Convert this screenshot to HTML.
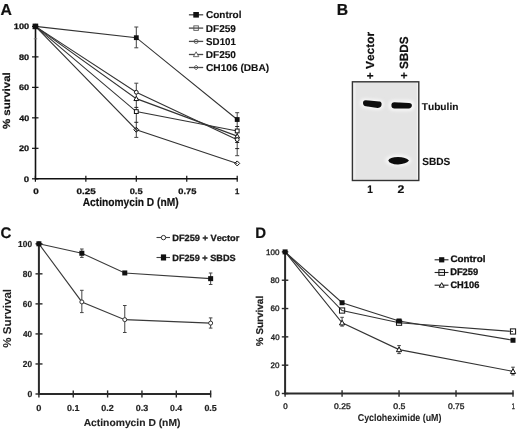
<!DOCTYPE html>
<html><head><meta charset="utf-8"><style>
html,body{margin:0;padding:0;background:#fff;}
svg{display:block;filter:blur(0.3px);}
text{font-family:"Liberation Sans",sans-serif;font-kerning:none;text-rendering:geometricPrecision;}
</style></head><body>
<svg width="520" height="431" viewBox="0 0 520 431">
<rect width="520" height="431" fill="#fff"/>
<text transform="matrix(0.9882,0,0,1,0.61,14.50)" font-size="15.99" font-weight="bold" fill="#111" stroke="#111" stroke-width="0.2" >A</text>
<line x1="35.5" y1="25.9" x2="35.5" y2="179.55" stroke="#111" stroke-width="1.6"/>
<line x1="35.5" y1="178.8" x2="237.7" y2="178.8" stroke="#111" stroke-width="1.6"/>
<line x1="32" y1="178.8" x2="38.5" y2="178.8" stroke="#111" stroke-width="1.2"/>
<line x1="32" y1="148.32" x2="38.5" y2="148.32" stroke="#111" stroke-width="1.2"/>
<line x1="32" y1="117.84" x2="38.5" y2="117.84" stroke="#111" stroke-width="1.2"/>
<line x1="32" y1="87.36" x2="38.5" y2="87.36" stroke="#111" stroke-width="1.2"/>
<line x1="32" y1="56.88" x2="38.5" y2="56.88" stroke="#111" stroke-width="1.2"/>
<line x1="32" y1="26.4" x2="38.5" y2="26.4" stroke="#111" stroke-width="1.2"/>
<line x1="35.4" y1="175.8" x2="35.4" y2="181.8" stroke="#111" stroke-width="1.2"/>
<line x1="85.85" y1="175.8" x2="85.85" y2="181.8" stroke="#111" stroke-width="1.2"/>
<line x1="136.3" y1="175.8" x2="136.3" y2="181.8" stroke="#111" stroke-width="1.2"/>
<line x1="186.75" y1="175.8" x2="186.75" y2="181.8" stroke="#111" stroke-width="1.2"/>
<line x1="237.2" y1="175.8" x2="237.2" y2="181.8" stroke="#111" stroke-width="1.2"/>
<text transform="matrix(1.2099,0,0,1,23.82,181.80)" font-size="7.99" font-weight="bold" fill="#111" stroke="#111" stroke-width="0.25" >0</text>
<text transform="matrix(1.1464,0,0,1,18.98,151.32)" font-size="7.99" font-weight="bold" fill="#111" stroke="#111" stroke-width="0.25" >20</text>
<text transform="matrix(1.1252,0,0,1,19.16,120.84)" font-size="7.99" font-weight="bold" fill="#111" stroke="#111" stroke-width="0.25" >40</text>
<text transform="matrix(1.1485,0,0,1,18.96,90.36)" font-size="7.99" font-weight="bold" fill="#111" stroke="#111" stroke-width="0.25" >60</text>
<text transform="matrix(1.1432,0,0,1,19.01,59.88)" font-size="7.99" font-weight="bold" fill="#111" stroke="#111" stroke-width="0.25" >80</text>
<text transform="matrix(1.1514,0,0,1,13.82,29.40)" font-size="7.99" font-weight="bold" fill="#111" stroke="#111" stroke-width="0.25" >100</text>
<text transform="matrix(1.2362,0,0,1,33.21,193.60)" font-size="7.99" font-weight="bold" fill="#111" stroke="#111" stroke-width="0.25" >0</text>
<text transform="matrix(1.2317,0,0,1,76.51,193.60)" font-size="7.99" font-weight="bold" fill="#111" stroke="#111" stroke-width="0.25" >0.25</text>
<text transform="matrix(1.1632,0,0,1,129.63,193.60)" font-size="7.99" font-weight="bold" fill="#111" stroke="#111" stroke-width="0.25" >0.5</text>
<text transform="matrix(1.1651,0,0,1,178.33,193.60)" font-size="7.99" font-weight="bold" fill="#111" stroke="#111" stroke-width="0.25" >0.75</text>
<text transform="matrix(0.9678,0,0,1,234.91,193.60)" font-size="7.99" font-weight="bold" fill="#111" stroke="#111" stroke-width="0.25" >1</text>
<text transform="matrix(0.8781,0,0,1,82.75,206.00)" font-size="11.63" font-weight="bold" fill="#111" stroke="#111" stroke-width="0.2" >Actinomycin D (nM)</text>
<text transform="matrix(0,-1.1145,1,0,10.30,129.09)" font-size="10.32" font-weight="bold" fill="#111" stroke="#111" stroke-width="0.2">% survival</text>
<line x1="136.3" y1="27" x2="136.3" y2="47.8" stroke="#444" stroke-width="1"/>
<line x1="134.3" y1="27" x2="138.3" y2="27" stroke="#444" stroke-width="1"/>
<line x1="134.3" y1="47.8" x2="138.3" y2="47.8" stroke="#444" stroke-width="1"/>
<line x1="136.3" y1="83.2" x2="136.3" y2="137.4" stroke="#444" stroke-width="1"/>
<line x1="134.3" y1="83.2" x2="138.3" y2="83.2" stroke="#444" stroke-width="1"/>
<line x1="134.3" y1="137.4" x2="138.3" y2="137.4" stroke="#444" stroke-width="1"/>
<line x1="134.3" y1="107.4" x2="138.3" y2="107.4" stroke="#222" stroke-width="1"/>
<line x1="134.3" y1="122.3" x2="138.3" y2="122.3" stroke="#222" stroke-width="1"/>
<line x1="237.2" y1="112.7" x2="237.2" y2="155.7" stroke="#444" stroke-width="1"/>
<line x1="235.2" y1="112.7" x2="239.2" y2="112.7" stroke="#444" stroke-width="1"/>
<line x1="235.2" y1="155.7" x2="239.2" y2="155.7" stroke="#444" stroke-width="1"/>
<line x1="235.2" y1="126.5" x2="239.2" y2="126.5" stroke="#222" stroke-width="1"/>
<line x1="235.2" y1="142.5" x2="239.2" y2="142.5" stroke="#222" stroke-width="1"/>
<line x1="235.2" y1="148.6" x2="239.2" y2="148.6" stroke="#222" stroke-width="1"/>
<polyline points="35.4,26.4 136.3,37.68 237.2,119.52" fill="none" stroke="#333" stroke-width="1.1"/>
<polyline points="35.4,26.4 136.3,111.59 237.2,130.95" fill="none" stroke="#333" stroke-width="1.1"/>
<polyline points="35.4,26.4 136.3,92.24 237.2,139.63" fill="none" stroke="#333" stroke-width="1.1"/>
<polyline points="35.4,26.4 136.3,98.64 237.2,136.13" fill="none" stroke="#333" stroke-width="1.1"/>
<polyline points="35.4,26.4 136.3,129.73 237.2,163.41" fill="none" stroke="#333" stroke-width="1.1"/>
<polygon points="35.4,23.9 37.9,26.4 35.4,28.9 32.9,26.4" fill="none" stroke="#111" stroke-width="1.0"/>
<polygon points="136.3,127.23 138.8,129.73 136.3,132.23 133.8,129.73" fill="none" stroke="#111" stroke-width="1.0"/>
<polygon points="237.2,160.91 239.7,163.41 237.2,165.91 234.7,163.41" fill="none" stroke="#111" stroke-width="1.0"/>
<polygon points="35.4,24 37.8,28.32 33,28.32" fill="#fff" stroke="#111" stroke-width="1.0"/>
<polygon points="136.3,96.24 138.7,100.56 133.9,100.56" fill="#fff" stroke="#111" stroke-width="1.0"/>
<polygon points="237.2,133.73 239.6,138.05 234.8,138.05" fill="#fff" stroke="#111" stroke-width="1.0"/>
<circle cx="35.4" cy="26.4" r="1.9" fill="#fff" stroke="#111" stroke-width="1.0"/>
<circle cx="136.3" cy="92.24" r="1.9" fill="#fff" stroke="#111" stroke-width="1.0"/>
<circle cx="237.2" cy="139.63" r="1.9" fill="#fff" stroke="#111" stroke-width="1.0"/>
<rect x="33.5" y="24.5" width="3.8" height="3.8" fill="#fff" stroke="#111" stroke-width="1.0"/>
<rect x="134.4" y="109.69" width="3.8" height="3.8" fill="#fff" stroke="#111" stroke-width="1.0"/>
<rect x="235.3" y="129.05" width="3.8" height="3.8" fill="#fff" stroke="#111" stroke-width="1.0"/>
<rect x="33" y="24" width="4.8" height="4.8" fill="#111"/>
<rect x="133.9" y="35.28" width="4.8" height="4.8" fill="#111"/>
<rect x="234.8" y="117.12" width="4.8" height="4.8" fill="#111"/>
<line x1="33.8" y1="38.8" x2="37.2" y2="38.8" stroke="#777" stroke-width="0.9"/>
<rect x="32.6" y="23.6" width="5.6" height="5.6" fill="#111"/>
<line x1="188.9" y1="14.8" x2="203.2" y2="14.8" stroke="#4a4a4a" stroke-width="1.3"/>
<rect x="193.3" y="12" width="5.6" height="5.6" fill="#111"/>
<text transform="matrix(1.0109,0,0,1,205.99,17.90)" font-size="9.88" font-weight="bold" fill="#111" stroke="#111" stroke-width="0.12" >Control</text>
<line x1="188.9" y1="28.1" x2="203.2" y2="28.1" stroke="#4a4a4a" stroke-width="1.3"/>
<rect x="193.85" y="25.85" width="4.5" height="4.5" fill="none" stroke="#555" stroke-width="0.9"/>
<text transform="matrix(1.0196,0,0,1,205.73,31.60)" font-size="9.88" font-weight="bold" fill="#111" stroke="#111" stroke-width="0.12" >DF259</text>
<line x1="188.9" y1="41.4" x2="203.2" y2="41.4" stroke="#4a4a4a" stroke-width="1.3"/>
<circle cx="196.1" cy="41.4" r="2.05" fill="none" stroke="#555" stroke-width="0.9"/>
<text transform="matrix(0.9845,0,0,1,206.12,44.70)" font-size="9.88" font-weight="bold" fill="#111" stroke="#111" stroke-width="0.12" >SD101</text>
<line x1="188.9" y1="54.5" x2="203.2" y2="54.5" stroke="#4a4a4a" stroke-width="1.3"/>
<polygon points="196.1,51.8 198.8,56.66 193.4,56.66" fill="#fff" stroke="#555" stroke-width="0.9"/>
<text transform="matrix(1.0210,0,0,1,205.72,58.00)" font-size="9.88" font-weight="bold" fill="#111" stroke="#111" stroke-width="0.12" >DF250</text>
<line x1="188.9" y1="67.5" x2="203.2" y2="67.5" stroke="#4a4a4a" stroke-width="1.3"/>
<polygon points="196.1,65.2 198.4,67.5 196.1,69.8 193.8,67.5" fill="none" stroke="#555" stroke-width="0.9"/>
<text transform="matrix(1.0279,0,0,1,205.98,70.80)" font-size="9.88" font-weight="bold" fill="#111" stroke="#111" stroke-width="0.12" >CH106 (DBA)</text>
<text transform="matrix(0.9845,0,0,1,336.75,14.80)" font-size="15.99" font-weight="bold" fill="#111" stroke="#111" stroke-width="0.2" >B</text>
<text transform="matrix(0,-1.0275,1,0,373.90,79.30)" font-size="11.63" font-weight="bold" fill="#111" stroke="#111" stroke-width="0.2">+ Vector</text>
<text transform="matrix(0,-0.9807,1,0,407.70,79.09)" font-size="11.92" font-weight="bold" fill="#111" stroke="#111" stroke-width="0.2">+ SBDS</text>
<defs><filter id="bl" x="-50%" y="-50%" width="200%" height="200%"><feGaussianBlur stdDeviation="0.45"/></filter><filter id="hl" x="-50%" y="-50%" width="200%" height="200%"><feGaussianBlur stdDeviation="1.5"/></filter></defs>
<rect x="352.4" y="81.8" width="66.4" height="98.7" fill="#e4e4e4"/>
<rect x="353.2" y="82.6" width="2.4" height="97" fill="#efefef"/>
<rect x="416.8" y="82.6" width="1.3" height="97" fill="#f2f2f2"/>
<rect x="352.4" y="81.8" width="66.4" height="98.7" fill="none" stroke="#333" stroke-width="1.4"/>
<g filter="url(#hl)" fill="#f6f6f6"><path d="M360,103 Q360,98 366,98.5 L380,99.8 Q384,100.3 384,104.5 Q383.5,110 377.5,110 L366,108.5 Q360,108 360,103 Z"/><rect x="388.5" y="100" width="26" height="11" rx="5"/><ellipse cx="398.2" cy="160.6" rx="13" ry="6"/></g>
<g filter="url(#bl)" fill="#0d0d0d"><path d="M363,103 Q363,100.1 366,100.3 L379.5,101.4 Q381.8,101.7 381.6,104.6 Q381.2,108.1 377.6,107.9 L366,106.3 Q363,105.9 363,103 Z"/><path d="M391.4,105.3 Q391.4,102.2 394.5,102.3 L409,102.9 Q412,103.1 411.9,105.6 Q411.7,108.5 408.5,108.4 L394.5,108.5 Q391.4,108.5 391.4,105.3 Z"/><path d="M388.3,160.4 Q389.5,157 398,156.9 Q406,157.1 409,160.5 Q406,164.3 398,164.4 Q389.5,164.1 388.3,160.4 Z"/></g>
<text transform="matrix(1.0270,0,0,1,421.79,109.70)" font-size="9.88" font-weight="bold" fill="#111" stroke="#111" stroke-width="0.1" >Tubulin</text>
<text transform="matrix(0.9796,0,0,1,422.21,165.40)" font-size="10.32" font-weight="bold" fill="#111" stroke="#111" stroke-width="0.1" >SBDS</text>
<text transform="matrix(0.9143,0,0,1,367.36,193.00)" font-size="11.05" font-weight="bold" fill="#111" stroke="#111" stroke-width="0.2" >1</text>
<text transform="matrix(1.1094,0,0,1,397.58,193.00)" font-size="11.05" font-weight="bold" fill="#111" stroke="#111" stroke-width="0.2" >2</text>
<text transform="matrix(0.9821,0,0,1,0.59,238.00)" font-size="15.26" font-weight="bold" fill="#111" stroke="#111" stroke-width="0.2" >C</text>
<line x1="38.9" y1="243.3" x2="38.9" y2="395" stroke="#2a2a2a" stroke-width="2.0"/>
<line x1="38.9" y1="394" x2="211.15" y2="394" stroke="#2a2a2a" stroke-width="2.0"/>
<line x1="35.5" y1="394" x2="42.5" y2="394" stroke="#2a2a2a" stroke-width="1.4"/>
<line x1="35.5" y1="363.96" x2="42.5" y2="363.96" stroke="#2a2a2a" stroke-width="1.4"/>
<line x1="35.5" y1="333.92" x2="42.5" y2="333.92" stroke="#2a2a2a" stroke-width="1.4"/>
<line x1="35.5" y1="303.88" x2="42.5" y2="303.88" stroke="#2a2a2a" stroke-width="1.4"/>
<line x1="35.5" y1="273.84" x2="42.5" y2="273.84" stroke="#2a2a2a" stroke-width="1.4"/>
<line x1="35.5" y1="243.8" x2="42.5" y2="243.8" stroke="#2a2a2a" stroke-width="1.4"/>
<line x1="38.9" y1="390.4" x2="38.9" y2="397.5" stroke="#2a2a2a" stroke-width="1.4"/>
<line x1="73.25" y1="390.4" x2="73.25" y2="397.5" stroke="#2a2a2a" stroke-width="1.4"/>
<line x1="107.6" y1="390.4" x2="107.6" y2="397.5" stroke="#2a2a2a" stroke-width="1.4"/>
<line x1="141.95" y1="390.4" x2="141.95" y2="397.5" stroke="#2a2a2a" stroke-width="1.4"/>
<line x1="176.3" y1="390.4" x2="176.3" y2="397.5" stroke="#2a2a2a" stroke-width="1.4"/>
<line x1="210.65" y1="390.4" x2="210.65" y2="397.5" stroke="#2a2a2a" stroke-width="1.4"/>
<text transform="matrix(1.0006,0,0,1,27.50,397.00)" font-size="8.72" font-weight="bold" fill="#222" stroke="#222" stroke-width="0.2" >0</text>
<text transform="matrix(0.9513,0,0,1,22.81,366.96)" font-size="8.72" font-weight="bold" fill="#222" stroke="#222" stroke-width="0.2" >20</text>
<text transform="matrix(0.9337,0,0,1,22.98,336.92)" font-size="8.72" font-weight="bold" fill="#222" stroke="#222" stroke-width="0.2" >40</text>
<text transform="matrix(0.9531,0,0,1,22.80,306.88)" font-size="8.72" font-weight="bold" fill="#222" stroke="#222" stroke-width="0.2" >60</text>
<text transform="matrix(0.9486,0,0,1,22.84,276.84)" font-size="8.72" font-weight="bold" fill="#222" stroke="#222" stroke-width="0.2" >80</text>
<text transform="matrix(0.9565,0,0,1,18.12,246.80)" font-size="8.72" font-weight="bold" fill="#222" stroke="#222" stroke-width="0.2" >100</text>
<text transform="matrix(1.0609,0,0,1,36.33,411.40)" font-size="8.72" font-weight="bold" fill="#222" stroke="#222" stroke-width="0.2" >0</text>
<text transform="matrix(1.0229,0,0,1,67.00,411.40)" font-size="8.72" font-weight="bold" fill="#222" stroke="#222" stroke-width="0.2" >0.1</text>
<text transform="matrix(1.0324,0,0,1,101.34,411.40)" font-size="8.72" font-weight="bold" fill="#222" stroke="#222" stroke-width="0.2" >0.2</text>
<text transform="matrix(1.0294,0,0,1,135.69,411.40)" font-size="8.72" font-weight="bold" fill="#222" stroke="#222" stroke-width="0.2" >0.3</text>
<text transform="matrix(1.0058,0,0,1,170.05,411.40)" font-size="8.72" font-weight="bold" fill="#222" stroke="#222" stroke-width="0.2" >0.4</text>
<text transform="matrix(1.0229,0,0,1,204.40,411.40)" font-size="8.72" font-weight="bold" fill="#222" stroke="#222" stroke-width="0.2" >0.5</text>
<text transform="matrix(1.0152,0,0,1,83.64,426.20)" font-size="10.17" font-weight="bold" fill="#222" stroke="#222" stroke-width="0.1" >Actinomycin D (nM)</text>
<text transform="matrix(0,-1.0256,1,0,11.00,347.69)" font-size="11.34" font-weight="bold" fill="#222" stroke="#222" stroke-width="0.05">% Survival</text>
<line x1="81.84" y1="249" x2="81.84" y2="257.4" stroke="#444" stroke-width="1"/>
<line x1="80.04" y1="249" x2="83.64" y2="249" stroke="#444" stroke-width="1"/>
<line x1="80.04" y1="257.4" x2="83.64" y2="257.4" stroke="#444" stroke-width="1"/>
<line x1="81.84" y1="290.3" x2="81.84" y2="312.6" stroke="#444" stroke-width="1"/>
<line x1="80.04" y1="290.3" x2="83.64" y2="290.3" stroke="#444" stroke-width="1"/>
<line x1="80.04" y1="312.6" x2="83.64" y2="312.6" stroke="#444" stroke-width="1"/>
<line x1="124.78" y1="305.5" x2="124.78" y2="332.5" stroke="#444" stroke-width="1"/>
<line x1="122.98" y1="305.5" x2="126.58" y2="305.5" stroke="#444" stroke-width="1"/>
<line x1="122.98" y1="332.5" x2="126.58" y2="332.5" stroke="#444" stroke-width="1"/>
<line x1="210.65" y1="273" x2="210.65" y2="284.5" stroke="#444" stroke-width="1"/>
<line x1="208.85" y1="273" x2="212.45" y2="273" stroke="#444" stroke-width="1"/>
<line x1="208.85" y1="284.5" x2="212.45" y2="284.5" stroke="#444" stroke-width="1"/>
<line x1="210.65" y1="317.9" x2="210.65" y2="328.1" stroke="#444" stroke-width="1"/>
<line x1="208.85" y1="317.9" x2="212.45" y2="317.9" stroke="#444" stroke-width="1"/>
<line x1="208.85" y1="328.1" x2="212.45" y2="328.1" stroke="#444" stroke-width="1"/>
<polyline points="38.9,243.8 81.84,301.93 124.78,319.65 210.65,323.11" fill="none" stroke="#3a3a3a" stroke-width="1.1"/>
<polyline points="38.9,243.8 81.84,253.26 124.78,272.94 210.65,278.65" fill="none" stroke="#3a3a3a" stroke-width="1.1"/>
<circle cx="38.9" cy="243.8" r="2" fill="#fff" stroke="#333" stroke-width="1.0"/>
<circle cx="81.84" cy="301.93" r="2" fill="#fff" stroke="#333" stroke-width="1.0"/>
<circle cx="124.78" cy="319.65" r="2" fill="#fff" stroke="#333" stroke-width="1.0"/>
<circle cx="210.65" cy="323.11" r="2" fill="#fff" stroke="#333" stroke-width="1.0"/>
<rect x="36.4" y="241.3" width="5" height="5" fill="#111"/>
<rect x="79.34" y="250.76" width="5" height="5" fill="#111"/>
<rect x="122.28" y="270.44" width="5" height="5" fill="#111"/>
<rect x="208.15" y="276.15" width="5" height="5" fill="#111"/>
<line x1="156.5" y1="237.5" x2="170" y2="237.5" stroke="#444" stroke-width="1.1"/>
<circle cx="163.5" cy="237.6" r="2.2" fill="#fff" stroke="#333" stroke-width="1.0"/>
<line x1="156.5" y1="257.5" x2="170" y2="257.5" stroke="#444" stroke-width="1.1"/>
<rect x="160.9" y="254.4" width="5.2" height="6.1" fill="#111"/>
<text transform="matrix(1.0259,0,0,1,172.28,240.80)" font-size="9.01" font-weight="bold" fill="#1a1a1a" stroke="#1a1a1a" stroke-width="0.3" >DF259 + Vector</text>
<text transform="matrix(1.0179,0,0,1,172.29,261.20)" font-size="9.01" font-weight="bold" fill="#1a1a1a" stroke="#1a1a1a" stroke-width="0.3" >DF259 + SBDS</text>
<text transform="matrix(0.9829,0,0,1,255.20,238.00)" font-size="15.26" font-weight="bold" fill="#111" stroke="#111" stroke-width="0.2" >D</text>
<line x1="285.1" y1="251.4" x2="285.1" y2="394.5" stroke="#2a2a2a" stroke-width="2.0"/>
<line x1="285.1" y1="393.5" x2="513.5" y2="393.5" stroke="#2a2a2a" stroke-width="2.0"/>
<line x1="281.8" y1="393.5" x2="288.3" y2="393.5" stroke="#2a2a2a" stroke-width="1.4"/>
<line x1="281.8" y1="365.18" x2="288.3" y2="365.18" stroke="#2a2a2a" stroke-width="1.4"/>
<line x1="281.8" y1="336.86" x2="288.3" y2="336.86" stroke="#2a2a2a" stroke-width="1.4"/>
<line x1="281.8" y1="308.54" x2="288.3" y2="308.54" stroke="#2a2a2a" stroke-width="1.4"/>
<line x1="281.8" y1="280.22" x2="288.3" y2="280.22" stroke="#2a2a2a" stroke-width="1.4"/>
<line x1="281.8" y1="251.9" x2="288.3" y2="251.9" stroke="#2a2a2a" stroke-width="1.4"/>
<line x1="285.1" y1="390.3" x2="285.1" y2="396.7" stroke="#2a2a2a" stroke-width="1.4"/>
<line x1="342.08" y1="390.3" x2="342.08" y2="396.7" stroke="#2a2a2a" stroke-width="1.4"/>
<line x1="399.05" y1="390.3" x2="399.05" y2="396.7" stroke="#2a2a2a" stroke-width="1.4"/>
<line x1="456.02" y1="390.3" x2="456.02" y2="396.7" stroke="#2a2a2a" stroke-width="1.4"/>
<line x1="513" y1="390.3" x2="513" y2="396.7" stroke="#2a2a2a" stroke-width="1.4"/>
<text transform="matrix(1.0389,0,0,1,274.91,396.40)" font-size="7.99" font-weight="normal" fill="#222" stroke="#222" stroke-width="0.35" >0</text>
<text transform="matrix(1.0076,0,0,1,270.55,368.08)" font-size="7.99" font-weight="normal" fill="#222" stroke="#222" stroke-width="0.35" >20</text>
<text transform="matrix(0.9814,0,0,1,270.78,339.76)" font-size="7.99" font-weight="normal" fill="#222" stroke="#222" stroke-width="0.35" >40</text>
<text transform="matrix(1.0081,0,0,1,270.55,311.44)" font-size="7.99" font-weight="normal" fill="#222" stroke="#222" stroke-width="0.35" >60</text>
<text transform="matrix(1.0009,0,0,1,270.61,283.12)" font-size="7.99" font-weight="normal" fill="#222" stroke="#222" stroke-width="0.35" >80</text>
<text transform="matrix(1.0075,0,0,1,266.08,254.80)" font-size="7.99" font-weight="normal" fill="#222" stroke="#222" stroke-width="0.35" >100</text>
<text transform="matrix(0.9766,0,0,1,283.29,408.80)" font-size="8.14" font-weight="normal" fill="#222" stroke="#222" stroke-width="0.35" >0</text>
<text transform="matrix(1.0473,0,0,1,334.07,408.80)" font-size="8.14" font-weight="normal" fill="#222" stroke="#222" stroke-width="0.35" >0.25</text>
<text transform="matrix(1.0793,0,0,1,393.26,408.80)" font-size="8.14" font-weight="normal" fill="#222" stroke="#222" stroke-width="0.35" >0.5</text>
<text transform="matrix(1.0407,0,0,1,448.07,408.80)" font-size="8.14" font-weight="normal" fill="#222" stroke="#222" stroke-width="0.35" >0.75</text>
<text transform="matrix(0.6839,0,0,1,511.78,408.80)" font-size="8.14" font-weight="normal" fill="#222" stroke="#222" stroke-width="0.35" >1</text>
<text transform="matrix(0.8847,0,0,1,357.74,420.60)" font-size="10.03" font-weight="bold" fill="#222" stroke="#222" stroke-width="0.05" >Cycloheximide (uM)</text>
<text transform="matrix(0,-1.0092,1,0,263.40,346.25)" font-size="9.88" font-weight="bold" fill="#222" stroke="#222" stroke-width="0.2">% Survival</text>
<line x1="342.08" y1="317.3" x2="342.08" y2="326.1" stroke="#444" stroke-width="1"/>
<line x1="340.28" y1="317.3" x2="343.88" y2="317.3" stroke="#444" stroke-width="1"/>
<line x1="340.28" y1="326.1" x2="343.88" y2="326.1" stroke="#444" stroke-width="1"/>
<line x1="399.05" y1="345.6" x2="399.05" y2="353.6" stroke="#444" stroke-width="1"/>
<line x1="397.25" y1="345.6" x2="400.85" y2="345.6" stroke="#444" stroke-width="1"/>
<line x1="397.25" y1="353.6" x2="400.85" y2="353.6" stroke="#444" stroke-width="1"/>
<line x1="513" y1="367.2" x2="513" y2="374.9" stroke="#444" stroke-width="1"/>
<line x1="511.2" y1="367.2" x2="514.8" y2="367.2" stroke="#444" stroke-width="1"/>
<line x1="511.2" y1="374.9" x2="514.8" y2="374.9" stroke="#444" stroke-width="1"/>
<polyline points="285.1,251.9 342.08,302.73 399.05,321 513,340.26" fill="none" stroke="#333" stroke-width="1.1"/>
<polyline points="285.1,251.9 342.08,310.52 399.05,322.7 513,331.48" fill="none" stroke="#333" stroke-width="1.1"/>
<polyline points="285.1,251.9 342.08,322.84 399.05,349.6 513,371.41" fill="none" stroke="#333" stroke-width="1.1"/>
<polygon points="342.08,320.24 344.68,324.92 339.48,324.92" fill="#fff" stroke="#111" stroke-width="1.0"/>
<polygon points="399.05,347 401.65,351.68 396.45,351.68" fill="#fff" stroke="#111" stroke-width="1.0"/>
<polygon points="513,368.81 515.6,373.49 510.4,373.49" fill="#fff" stroke="#111" stroke-width="1.0"/>
<rect x="339.48" y="307.92" width="5.2" height="5.2" fill="none" stroke="#111" stroke-width="1.0"/>
<rect x="396.45" y="320.1" width="5.2" height="5.2" fill="none" stroke="#111" stroke-width="1.0"/>
<rect x="510.4" y="328.88" width="5.2" height="5.2" fill="none" stroke="#111" stroke-width="1.0"/>
<rect x="282.6" y="249.4" width="5" height="5" fill="#111"/>
<rect x="339.58" y="300.23" width="5" height="5" fill="#111"/>
<rect x="396.55" y="318.5" width="5" height="5" fill="#111"/>
<rect x="510.5" y="337.76" width="5" height="5" fill="#111"/>
<line x1="434.6" y1="259.8" x2="448.5" y2="259.8" stroke="#222" stroke-width="1.1"/>
<rect x="439.1" y="257.2" width="5.2" height="5.2" fill="#111"/>
<text transform="matrix(1.0453,0,0,1,450.39,262.20)" font-size="9.45" font-weight="bold" fill="#111" stroke="#111" stroke-width="0.3" >Control</text>
<line x1="434.6" y1="272.5" x2="448.5" y2="272.5" stroke="#222" stroke-width="1.1"/>
<rect x="438.9" y="269.7" width="5.6" height="5.6" fill="none" stroke="#111" stroke-width="1.0"/>
<text transform="matrix(0.9900,0,0,1,450.17,274.90)" font-size="9.45" font-weight="bold" fill="#111" stroke="#111" stroke-width="0.3" >DF259</text>
<line x1="434.6" y1="285.2" x2="448.5" y2="285.2" stroke="#222" stroke-width="1.1"/>
<polygon points="441.7,282.7 444.2,287.2 439.2,287.2" fill="#fff" stroke="#111" stroke-width="1.0"/>
<text transform="matrix(0.9833,0,0,1,450.42,287.60)" font-size="9.45" font-weight="bold" fill="#111" stroke="#111" stroke-width="0.3" >CH106</text>
</svg>
</body></html>
